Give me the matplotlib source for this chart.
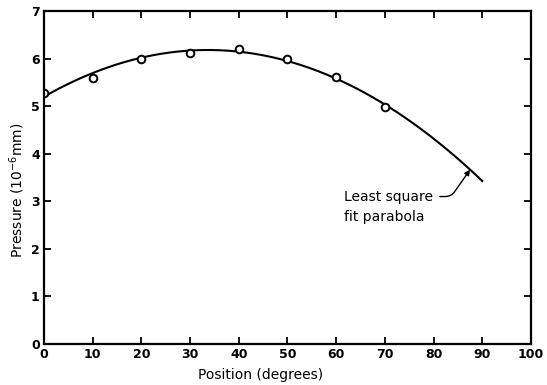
import numpy as np
import matplotlib
matplotlib.use("Agg")
import matplotlib.pyplot as plt

# Data
position = [0, 10, 20, 30, 40, 50, 60, 70]
pressure = [5.28, 5.60, 6.00, 6.12, 6.20, 6.00, 5.61, 4.98]
x_ticks = [0, 10, 20, 30, 40, 50, 60, 70, 80, 90, 100]
y_ticks = [0, 1, 2, 3, 4, 5, 6, 7]
fit_range = [0, 90]

plt.rcParams['font.family'] = ['DejaVu Sans']

fig = plt.figure(figsize=(5.47, 3.85), dpi=100)
ax = fig.add_axes([0.0804, 0.1065, 0.8903, 0.8649])

coef = np.polyfit(position, pressure, 2)
xf = np.linspace(fit_range[0], fit_range[1], 200)
ax.plot(xf, np.polyval(coef, xf), color='black', lw=1.5)
ax.plot(position, pressure, 'o', mfc='white', mec='black', mew=1.4, ms=5.5)

ax.set_xlim(0, 100)
ax.set_ylim(0, 7)
ax.set_xticks(x_ticks)
ax.set_yticks(y_ticks)
ax.set_xticklabels([str(v) for v in x_ticks], fontweight='bold', fontsize=9)
ax.set_yticklabels([str(v) for v in y_ticks], fontweight='bold', fontsize=9)
ax.tick_params(direction='in', length=5, width=1.3, top=True, right=True, pad=3)
for s in ax.spines.values():
    s.set_linewidth(1.6)

fig.text(261 / 547, 1 - 375 / 385, 'Position (degrees)', fontsize=10,
         ha='center', va='center')
fig.text(17 / 547, 1 - 190 / 385, 'Pressure (10$^{-6}$mm)', fontsize=10,
         ha='center', va='center', rotation=90)

xa = 87.5
ax.annotate('Least square', xy=(xa, np.polyval(coef, xa)),
            xytext=(61.6, 3.10), fontsize=10, ha='left', va='center',
            arrowprops=dict(arrowstyle='-|>', color='black', lw=1.0,
                            connectionstyle='angle,angleA=0,angleB=55,rad=6',
                            shrinkA=3, shrinkB=0, mutation_scale=8),
            )
ax.text(61.6, 2.68, 'fit parabola', fontsize=10, ha='left', va='center')

fig.savefig('out.png', dpi=100)
